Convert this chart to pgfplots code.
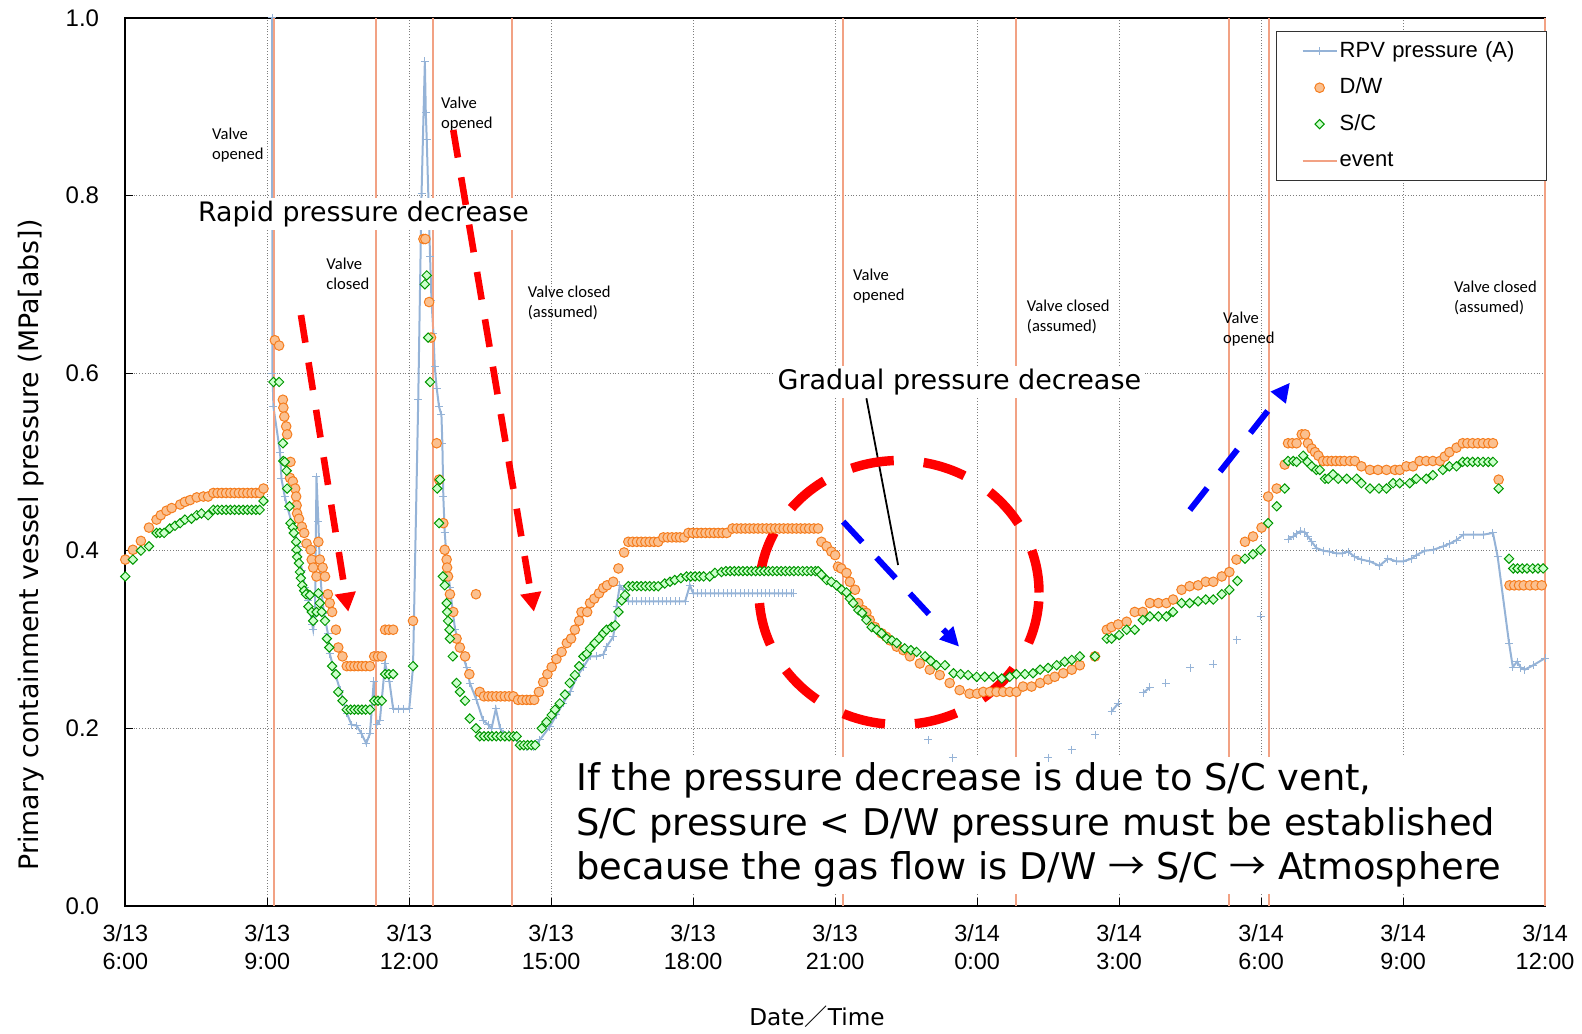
\documentclass[border=0pt]{standalone}
\usepackage{fontspec}
\setmainfont{Liberation Sans}
\newfontfamily\dejavu{DejaVu Sans}
\newfontfamily\carlito{Carlito}
\newfontfamily\cjk{Noto Sans CJK JP}
\usepackage{pgfplots}
\pgfplotsset{compat=1.18}
\usetikzlibrary{arrows.meta}
\definecolor{rpv}{RGB}{149,179,215}
\definecolor{dwfill}{RGB}{251,192,143}
\definecolor{dwedge}{RGB}{245,125,30}
\definecolor{scfill}{RGB}{204,255,204}
\definecolor{scedge}{RGB}{0,150,0}
\definecolor{evt}{RGB}{242,162,132}
\definecolor{gridc}{RGB}{125,125,125}
\begin{document}
\begin{tikzpicture}
\begin{axis}[
  scale only axis, width=709.85pt, height=444pt,
  xmin=0, xmax=30, ymin=0, ymax=1,
  clip=false, unbounded coords=jump,
  xtick={0,3,6,9,12,15,18,21,24,27,30},
  xticklabels={{3/13\\6:00},{3/13\\9:00},{3/13\\12:00},{3/13\\15:00},{3/13\\18:00},{3/13\\21:00},{3/14\\0:00},{3/14\\3:00},{3/14\\6:00},{3/14\\9:00},{3/14\\12:00}},
  ytick={0,0.2,0.4,0.6,0.8,1.0},
  yticklabels={0.0,0.2,0.4,0.6,0.8,1.0},
  xticklabel style={font=\fontsize{11.7}{14}\selectfont, align=center, yshift=-5.6pt},
  yticklabel style={font=\fontsize{12}{14}\selectfont, xshift=-9.6pt},
  tick align=inside, tick pos=left, major tick length=4pt,
  tick style={black, line width=0.5pt},
  grid=major, major grid style={gridc, densely dotted, line width=0.5pt},
  axis line style={black, line width=0.8pt},
  legend cell align=left,
  legend style={at={(rel axis cs:1.0016,0.9853)}, anchor=north east, draw=black!80, line width=0.6pt, fill=white,
    font=\fontsize{11}{13}\selectfont, inner xsep=12.5pt, inner ysep=4.4pt, row sep=7.2pt,
    nodes={inner xsep=1pt, inner ysep=0pt, text height=8.5pt, text depth=2.5pt, text width=90pt, align=left}},
]
% RPV pressure
\addplot[rpv, line width=1pt, mark=+, mark size=2pt, mark options={line width=0.5pt}] coordinates {
(3.10,1.0)(3.11,0.600)(3.13,0.562)(3.27,0.511)(3.30,0.481)(3.37,0.461)(3.44,0.446)(3.52,0.431)(3.59,0.420)(3.66,0.405)(3.73,0.378)(3.80,0.359)(3.87,0.344)(3.95,0.317)(3.97,0.311)(4.01,0.329)(4.04,0.483)(4.08,0.433)(4.11,0.382)(4.15,0.352)(4.20,0.329)(4.28,0.307)(4.32,0.284)(4.43,0.262)(4.54,0.243)(4.68,0.217)(4.78,0.204)(4.89,0.203)(4.99,0.194)(5.09,0.183)(5.17,0.194)(5.25,0.253)(5.31,0.204)(5.38,0.209)(5.49,0.273)(5.58,0.253)(5.66,0.222)(5.77,0.222)(5.88,0.222)(6.00,0.222)(6.08,0.269)(6.19,0.570)(6.26,0.802)(6.33,0.951)(6.35,0.893)(6.37,0.863)(6.44,0.731)(6.47,0.682)(6.51,0.645)(6.54,0.607)(6.58,0.583)(6.63,0.562)(6.68,0.553)(6.70,0.521)(6.72,0.461)(6.75,0.421)(6.79,0.390)(6.86,0.359)(6.92,0.331)(6.97,0.311)(7.07,0.292)(7.21,0.269)(7.28,0.251)(7.42,0.232)(7.56,0.209)(7.67,0.204)(7.74,0.200)(7.83,0.222)(7.92,0.200)(7.99,0.194)(8.09,0.194)(8.20,0.191)(8.34,0.181)(8.48,0.179)(8.62,0.179)(8.76,0.187)(8.97,0.202)(9.11,0.215)(9.25,0.228)(9.40,0.241)(9.54,0.258)(9.68,0.269)(9.82,0.281)(9.96,0.281)(10.10,0.283)(10.17,0.292)(10.31,0.303)(10.35,0.318)(10.38,0.337)(10.45,0.361)(10.52,0.356)(10.63,0.343)(10.72,0.343)(10.81,0.343)(10.90,0.343)(10.99,0.343)(11.08,0.343)(11.17,0.343)(11.26,0.343)(11.35,0.343)(11.44,0.343)(11.53,0.343)(11.62,0.343)(11.71,0.343)(11.83,0.343)(11.93,0.361)(12.00,0.352)(12.09,0.352)(12.18,0.352)(12.27,0.352)(12.36,0.352)(12.45,0.352)(12.54,0.352)(12.63,0.352)(12.72,0.352)(12.81,0.352)(12.90,0.352)(12.99,0.352)(13.08,0.352)(13.17,0.352)(13.26,0.352)(13.35,0.352)(13.44,0.352)(13.53,0.352)(13.62,0.352)(13.71,0.352)(13.80,0.352)(13.89,0.352)(13.98,0.352)(14.07,0.352)(14.11,0.352)
(14.5,nan)(16.97,0.187)(17.2,nan)(17.49,0.167)(18.0,nan)(19.50,0.167)(19.7,nan)(20.00,0.176)(20.2,nan)(20.50,0.193)(20.7,nan)(20.84,0.219)(20.98,0.228)(21.2,nan)(21.51,0.240)(21.65,0.246)(21.8,nan)(21.99,0.251)(22.2,nan)(22.50,0.268)(22.7,nan)(22.99,0.272)(23.2,nan)(23.49,0.300)(23.7,nan)(23.99,0.326)(24.2,nan)
(24.57,0.413)(24.68,0.416)(24.75,0.419)(24.83,0.422)(24.92,0.421)(24.99,0.416)(25.07,0.410)(25.17,0.403)(25.31,0.400)(25.45,0.399)(25.59,0.397)(25.72,0.397)(25.84,0.399)(25.98,0.393)(26.12,0.390)(26.30,0.388)(26.50,0.383)(26.68,0.391)(26.86,0.388)(27.00,0.388)(27.18,0.391)(27.28,0.395)(27.46,0.400)(27.64,0.401)(27.85,0.405)(27.99,0.408)(28.13,0.412)(28.27,0.418)(28.48,0.418)(28.69,0.418)(28.90,0.420)(29.00,0.393)(29.24,0.296)(29.32,0.269)(29.41,0.275)(29.49,0.268)(29.57,0.266)(29.75,0.271)(30.00,0.279)
};
% D/W
\addplot[only marks, mark=*, mark size=2.4pt, mark options={fill=dwfill, draw=dwedge, line width=0.5pt}] coordinates {
(0.00,0.390)(0.16,0.401)(0.33,0.411)(0.50,0.426)(0.66,0.435)(0.75,0.440)(0.87,0.445)(0.98,0.448)(1.16,0.452)(1.26,0.455)(1.37,0.457)(1.51,0.460)(1.65,0.461)(1.75,0.461)(1.86,0.465)(1.95,0.465)(2.04,0.465)(2.13,0.465)(2.22,0.465)(2.31,0.465)(2.40,0.465)(2.49,0.465)(2.58,0.465)(2.67,0.465)(2.76,0.465)(2.84,0.465)(2.92,0.470)
(3.16,0.637)(3.25,0.631)(3.33,0.570)(3.34,0.561)(3.36,0.551)(3.40,0.540)(3.42,0.531)(3.49,0.500)(3.48,0.482)(3.54,0.478)(3.59,0.470)(3.61,0.461)(3.62,0.451)(3.63,0.442)(3.67,0.436)(3.73,0.427)(3.78,0.420)(3.83,0.408)(3.92,0.401)(3.94,0.390)(3.97,0.381)(4.04,0.371)(4.08,0.410)(4.11,0.390)(4.17,0.381)(4.22,0.371)(4.28,0.351)(4.32,0.341)(4.37,0.331)(4.45,0.311)(4.50,0.291)(4.59,0.281)(4.68,0.270)(4.76,0.270)(4.84,0.270)(4.92,0.270)(5.00,0.270)(5.08,0.270)(5.17,0.270)(5.26,0.281)(5.34,0.281)(5.42,0.281)(5.49,0.311)(5.57,0.311)(5.66,0.311)(6.08,0.321)
(6.30,0.751)(6.34,0.751)(6.42,0.680)(6.46,0.640)(6.58,0.521)(6.63,0.480)(6.72,0.431)(6.75,0.401)(6.79,0.390)(6.80,0.381)(6.82,0.371)(6.86,0.351)(6.93,0.331)(7.00,0.301)(7.07,0.291)(7.18,0.281)(7.27,0.261)(7.41,0.351)(7.49,0.241)(7.58,0.236)(7.67,0.236)(7.75,0.236)(7.84,0.236)(7.93,0.236)(8.02,0.236)(8.11,0.236)(8.20,0.236)(8.30,0.232)(8.39,0.232)(8.48,0.232)(8.56,0.232)(8.64,0.232)
(8.74,0.241)(8.83,0.252)(8.92,0.261)(9.01,0.269)(9.11,0.278)(9.22,0.286)(9.33,0.296)(9.42,0.301)(9.50,0.311)(9.59,0.321)(9.64,0.331)(9.76,0.331)(9.82,0.341)(9.91,0.346)(10.01,0.352)(10.10,0.358)(10.18,0.361)(10.31,0.365)(10.42,0.380)(10.54,0.398)(10.63,0.410)(10.72,0.410)(10.81,0.410)(10.90,0.410)(10.99,0.410)(11.08,0.410)(11.17,0.410)(11.26,0.410)(11.37,0.415)(11.46,0.415)(11.55,0.415)(11.64,0.415)(11.72,0.415)(11.81,0.415)(11.90,0.420)(11.99,0.420)(12.08,0.420)(12.17,0.420)(12.26,0.420)(12.35,0.420)(12.44,0.420)(12.53,0.420)(12.62,0.420)(12.71,0.420)(12.83,0.425)(12.92,0.425)(13.01,0.425)(13.10,0.425)(13.19,0.425)(13.28,0.425)(13.37,0.425)(13.46,0.425)(13.55,0.425)(13.64,0.425)(13.73,0.425)(13.82,0.425)(13.91,0.425)(14.00,0.425)(14.09,0.425)(14.18,0.425)(14.27,0.425)(14.36,0.425)(14.45,0.425)(14.55,0.425)(14.64,0.425)
(14.71,0.410)(14.82,0.405)(14.92,0.399)(15.00,0.395)(15.06,0.382)(15.13,0.380)(15.24,0.375)(15.31,0.365)(15.42,0.356)(15.49,0.341)(15.59,0.333)(15.66,0.330)(15.73,0.322)(15.84,0.314)(15.98,0.307)(16.08,0.303)(16.16,0.299)(16.30,0.292)(16.44,0.288)(16.58,0.281)(16.79,0.273)(17.00,0.266)(17.21,0.260)(17.42,0.251)(17.63,0.243)(17.84,0.239)(18.00,0.239)(18.13,0.241)(18.27,0.241)(18.41,0.241)(18.55,0.241)(18.69,0.241)(18.83,0.241)(18.97,0.247)(19.15,0.247)(19.33,0.251)(19.50,0.255)(19.64,0.258)(19.82,0.262)(20.00,0.266)(20.17,0.271)(20.49,0.281)
(20.74,0.311)(20.84,0.314)(20.98,0.317)(21.16,0.320)(21.33,0.331)(21.50,0.331)(21.65,0.341)(21.83,0.341)(22.00,0.341)(22.14,0.345)(22.32,0.356)(22.49,0.360)(22.67,0.361)(22.83,0.365)(22.99,0.365)(23.17,0.371)(23.33,0.376)(23.48,0.390)(23.66,0.410)(23.83,0.416)(24.01,0.426)(24.15,0.461)(24.33,0.470)(24.50,0.497)(24.57,0.521)(24.66,0.521)(24.75,0.521)(24.86,0.531)(24.93,0.531)(24.99,0.521)(25.07,0.515)(25.14,0.511)(25.21,0.507)(25.31,0.501)(25.40,0.501)(25.49,0.501)(25.58,0.501)(25.67,0.501)(25.76,0.501)(25.88,0.501)(25.98,0.501)(26.12,0.495)(26.30,0.491)(26.47,0.491)(26.65,0.491)(26.83,0.491)(26.93,0.491)(27.07,0.495)(27.21,0.495)(27.35,0.501)(27.49,0.501)(27.63,0.501)(27.78,0.501)(27.88,0.506)(27.98,0.511)(28.13,0.516)(28.26,0.521)(28.36,0.521)(28.47,0.521)(28.58,0.521)(28.69,0.521)(28.80,0.521)(28.90,0.521)(29.02,0.480)(29.25,0.361)(29.35,0.361)(29.45,0.361)(29.55,0.361)(29.68,0.361)(29.80,0.361)(29.93,0.361)
};
% S/C
\addplot[only marks, mark=square*, mark size=1.65pt, mark options={rotate=45, fill=scfill, draw=scedge, line width=0.5pt}] coordinates {
(0.00,0.371)(0.16,0.390)(0.33,0.400)(0.50,0.405)(0.66,0.420)(0.73,0.420)(0.82,0.420)(0.94,0.425)(1.05,0.428)(1.16,0.431)(1.26,0.435)(1.40,0.436)(1.51,0.440)(1.61,0.442)(1.75,0.440)(1.86,0.446)(1.95,0.446)(2.04,0.446)(2.13,0.446)(2.22,0.446)(2.31,0.446)(2.40,0.446)(2.49,0.446)(2.58,0.446)(2.67,0.446)(2.76,0.446)(2.84,0.446)(2.92,0.456)
(3.13,0.590)(3.25,0.590)(3.33,0.521)(3.34,0.501)(3.37,0.500)(3.41,0.490)(3.42,0.470)(3.47,0.450)(3.49,0.431)(3.54,0.426)(3.56,0.420)(3.61,0.410)(3.62,0.401)(3.63,0.393)(3.67,0.386)(3.69,0.376)(3.71,0.369)(3.74,0.361)(3.78,0.355)(3.82,0.351)(3.87,0.337)(3.90,0.350)(3.94,0.331)(3.97,0.321)(4.04,0.331)(4.08,0.352)(4.11,0.341)(4.15,0.331)(4.22,0.321)(4.26,0.301)(4.31,0.291)(4.37,0.270)(4.45,0.261)(4.50,0.241)(4.59,0.231)(4.68,0.221)(4.76,0.221)(4.84,0.221)(4.92,0.221)(5.00,0.221)(5.08,0.221)(5.17,0.221)(5.26,0.231)(5.34,0.231)(5.42,0.231)(5.49,0.261)(5.57,0.261)(5.66,0.261)(6.08,0.270)
(6.33,0.700)(6.37,0.710)(6.40,0.640)(6.44,0.590)(6.59,0.470)(6.65,0.480)(6.63,0.431)(6.71,0.371)(6.75,0.361)(6.79,0.341)(6.80,0.331)(6.82,0.321)(6.85,0.311)(6.86,0.301)(6.92,0.281)(7.00,0.251)(7.07,0.241)(7.18,0.231)(7.28,0.211)(7.41,0.200)(7.49,0.191)(7.58,0.191)(7.67,0.191)(7.75,0.191)(7.84,0.191)(7.93,0.191)(8.02,0.191)(8.11,0.191)(8.20,0.191)(8.27,0.191)(8.34,0.181)(8.42,0.181)(8.50,0.181)(8.58,0.181)(8.66,0.181)
(8.80,0.200)(8.90,0.207)(9.01,0.215)(9.08,0.221)(9.18,0.228)(9.29,0.238)(9.39,0.251)(9.50,0.260)(9.59,0.270)(9.68,0.281)(9.75,0.284)(9.82,0.290)(9.92,0.296)(10.01,0.301)(10.10,0.307)(10.17,0.311)(10.28,0.314)(10.35,0.316)(10.42,0.331)(10.49,0.344)(10.56,0.350)(10.63,0.360)(10.72,0.360)(10.81,0.360)(10.90,0.360)(10.99,0.360)(11.08,0.360)(11.17,0.360)(11.26,0.360)(11.40,0.363)(11.51,0.365)(11.61,0.367)(11.74,0.369)(11.86,0.371)(11.95,0.371)(12.04,0.371)(12.13,0.371)(12.22,0.371)(12.35,0.371)(12.46,0.375)(12.60,0.376)(12.69,0.377)(12.78,0.377)(12.87,0.377)(12.96,0.377)(13.05,0.377)(13.14,0.377)(13.23,0.377)(13.32,0.377)(13.41,0.377)(13.50,0.377)(13.59,0.377)(13.68,0.377)(13.77,0.377)(13.86,0.377)(13.95,0.377)(14.04,0.377)(14.13,0.377)(14.22,0.377)(14.31,0.377)(14.40,0.377)(14.49,0.377)(14.58,0.377)(14.64,0.377)
(14.71,0.373)(14.82,0.367)(14.92,0.365)(15.03,0.361)(15.14,0.356)(15.24,0.353)(15.31,0.346)(15.38,0.341)(15.49,0.333)(15.57,0.330)(15.66,0.322)(15.77,0.314)(15.88,0.311)(15.98,0.307)(16.09,0.301)(16.20,0.299)(16.30,0.296)(16.47,0.290)(16.60,0.288)(16.72,0.286)(16.90,0.281)(17.02,0.276)(17.14,0.271)(17.32,0.271)(17.50,0.262)(17.65,0.261)(17.81,0.260)(17.99,0.258)(18.16,0.258)(18.34,0.258)(18.52,0.256)(18.69,0.258)(18.83,0.261)(19.01,0.261)(19.18,0.262)(19.33,0.266)(19.50,0.268)(19.68,0.271)(19.85,0.275)(20.00,0.277)(20.17,0.281)(20.49,0.281)
(20.74,0.301)(20.84,0.301)(21.00,0.305)(21.16,0.311)(21.33,0.311)(21.50,0.322)(21.65,0.326)(21.83,0.326)(22.00,0.326)(22.14,0.331)(22.32,0.341)(22.49,0.341)(22.67,0.343)(22.83,0.345)(22.99,0.345)(23.17,0.351)(23.33,0.356)(23.50,0.366)(23.66,0.391)(23.83,0.396)(23.99,0.401)(24.15,0.431)(24.33,0.450)(24.50,0.470)(24.57,0.501)(24.68,0.501)(24.75,0.500)(24.89,0.507)(24.98,0.500)(25.07,0.495)(25.17,0.491)(25.24,0.491)(25.35,0.481)(25.42,0.481)(25.52,0.486)(25.63,0.481)(25.81,0.481)(26.02,0.481)(26.12,0.476)(26.30,0.470)(26.49,0.470)(26.65,0.470)(26.79,0.476)(26.93,0.476)(27.14,0.476)(27.28,0.481)(27.49,0.481)(27.63,0.485)(27.84,0.491)(27.98,0.495)(28.13,0.495)(28.26,0.500)(28.36,0.500)(28.47,0.500)(28.58,0.500)(28.69,0.500)(28.80,0.500)(28.90,0.500)(29.02,0.470)(29.24,0.391)(29.33,0.380)(29.42,0.380)(29.52,0.380)(29.62,0.380)(29.74,0.380)(29.85,0.380)(29.96,0.380)
};
% events
\addplot[evt, line width=1pt] coordinates {
(3.14,0)(3.14,1)(3.14,nan)(5.29,0)(5.29,1)(5.29,nan)(6.51,0)(6.51,1)(6.51,nan)(8.17,0)(8.17,1)(8.17,nan)(15.17,0)(15.17,1)(15.17,nan)(18.83,0)(18.83,1)(18.83,nan)(23.33,0)(23.33,1)(23.33,nan)(24.17,0)(24.17,1)(24.17,nan)(30,0)(30,1)
};
\legend{RPV pressure (A),D/W,S/C,event}

% small labels
\begin{scope}[every node/.style={anchor=north west, inner sep=0pt, align=left, font=\carlito\fontsize{8.3}{10}\selectfont}]
\node at (axis cs:1.826,0.8764) {Valve\\opened};
\node at (axis cs:4.24,0.730) {Valve\\closed};
\node at (axis cs:6.664,0.9113) {Valve\\opened};
\node at (axis cs:8.50,0.698) {Valve closed\\(assumed)};
\node at (axis cs:15.37,0.718) {Valve\\opened};
\node at (axis cs:19.045,0.6823) {Valve closed\\(assumed)};
\node at (axis cs:23.19,0.669) {Valve\\opened};
\node at (axis cs:28.07,0.7037) {Valve closed\\(assumed)};
\end{scope}

% annotations
\node[anchor=base west, fill=white, inner xsep=2pt, inner ysep=1.5pt, xshift=-2pt, font=\dejavu\fontsize{13.4}{16}\selectfont] at (axis cs:1.53,0.7705) {Rapid pressure decrease};
\node[anchor=base west, fill=white, inner xsep=2pt, inner ysep=1.5pt, xshift=-2pt, font=\dejavu\fontsize{13.5}{16}\selectfont] at (axis cs:13.775,0.5818) {Gradual pressure decrease};
\draw[black, line width=0.9pt] (axis cs:15.66,0.5717) -- (axis cs:16.33,0.3839);

\draw[red, line width=3.3pt, dash pattern=on 14pt off 10pt, -{Triangle[width=10pt,length=9.5pt]}] (axis cs:3.712,0.6654) -- (axis cs:4.712,0.3313);
\draw[red, line width=3.3pt, dash pattern=on 14pt off 10pt, -{Triangle[width=10pt,length=9.5pt]}] (axis cs:6.93,0.8738) -- (axis cs:8.635,0.3313);
\draw[blue, line width=3pt, dash pattern=on 14pt off 10.5pt, -{Triangle[width=9pt,length=9.5pt]}] (axis cs:15.17,0.4327) -- (axis cs:17.62,0.2919);
\draw[blue, line width=3pt, dash pattern=on 14pt off 10.5pt, -{Triangle[width=9pt,length=9.5pt]}] (axis cs:22.495,0.4458) -- (axis cs:24.61,0.5892);
\draw[red, line width=4.7pt, dash pattern=on 21.5pt off 15pt] (axis cs:16.35,0.3529) ellipse [x radius=70pt, y radius=66pt];

\fill[white] (axis cs:9.40,0.0134) rectangle (axis cs:29.26,0.168);
\begin{scope}[every node/.style={anchor=base west, inner sep=0pt, font=\dejavu\fontsize{18.4}{22}\selectfont}]
\node at (axis cs:9.52,0.1305) {If the pressure decrease is due to S/C vent,};
\node at (axis cs:9.52,0.0798) {S/C pressure < D/W pressure must be established};
\node at (axis cs:9.52,0.0300) {because the gas flow is D/W {\cjk →} S/C {\cjk →} Atmosphere};
\end{scope}

% axis labels
\node[rotate=90, font=\dejavu\fontsize{13.4}{16}\selectfont] at (rel axis cs:-0.0665,0.4064) {Primary containment vessel pressure (MPa[abs])};
\node[font=\dejavu\fontsize{11.6}{14}\selectfont] at (rel axis cs:0.4872,-0.1251) {Date{\cjk ／}Time};

\coordinate (SW) at (rel axis cs:0,0);
\coordinate (NE) at (rel axis cs:1,1);
\end{axis}
\pgfresetboundingbox
\path ([xshift=-62.65pt,yshift=-63.55pt]SW) rectangle ([xshift=18.5pt,yshift=8.95pt]NE);
\end{tikzpicture}
\end{document}
